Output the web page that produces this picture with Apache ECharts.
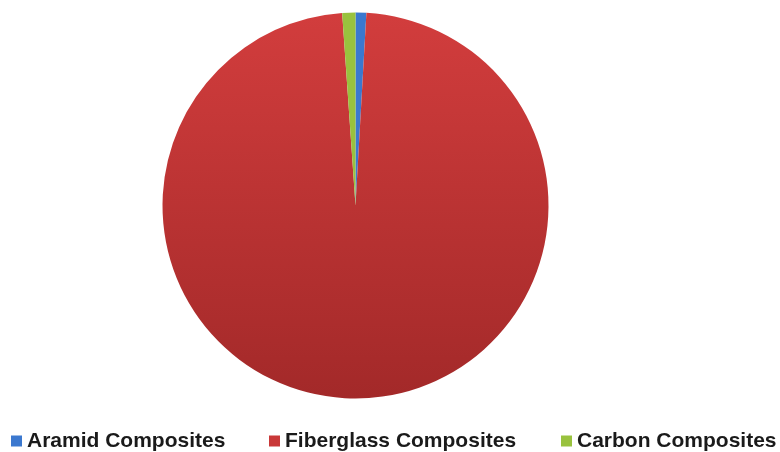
<!DOCTYPE html>
<html>
<head>
<meta charset="utf-8">
<script src="https://cdn.jsdelivr.net/npm/echarts@6/dist/echarts.min.js"></script>
<style>
  html, body { margin: 0; padding: 0; background: #ffffff; }
  #chart { width: 780px; height: 452px; }
</style>
</head>
<body>
<div id="chart"></div>
<script>
// Composite material share by type
const categories = ['Aramid Composites', 'Fiberglass Composites', 'Carbon Composites'];
const shares = [0.9, 98.0, 1.1];
const colors = ['#3b78cf', '#c93838', '#99c23e'];

const chart = echarts.init(document.getElementById('chart'));

const pieData = categories.map((name, i) => ({
  name: name,
  value: shares[i],
  itemStyle: {
    color: i === 1
      ? new echarts.graphic.LinearGradient(0, 0, 0, 1, [
          { offset: 0, color: '#d23d3d' },
          { offset: 1, color: '#a32929' }
        ])
      : colors[i]
  }
}));

// one legend entry per category, spread along the bottom edge
const legendLeft = [11, 269, 561];
const legends = categories.map((name, i) => ({
  left: legendLeft[i],
  top: 430,
  padding: 0,
  icon: 'rect',
  itemWidth: 11,
  itemHeight: 11,
  selectedMode: false,
  data: [{ name: name, itemStyle: { color: colors[i] } }],
  textStyle: {
    fontFamily: 'Liberation Sans, Arial, sans-serif',
    fontSize: 21,
    fontWeight: 'bold',
    lineHeight: 22,
    color: '#1a1a1a',
    padding: [0, 0, 0, 0]
  }
}));

chart.setOption({
  animation: false,
  backgroundColor: '#ffffff',
  legend: legends,
  series: [{
    type: 'pie',
    center: [355.5, 205.5],
    radius: [0, 193],
    startAngle: 90,
    clockwise: true,
    label: { show: false },
    labelLine: { show: false },
    itemStyle: { borderWidth: 0 },
    emphasis: { disabled: true },
    data: pieData
  }]
});
</script>
</body>
</html>
